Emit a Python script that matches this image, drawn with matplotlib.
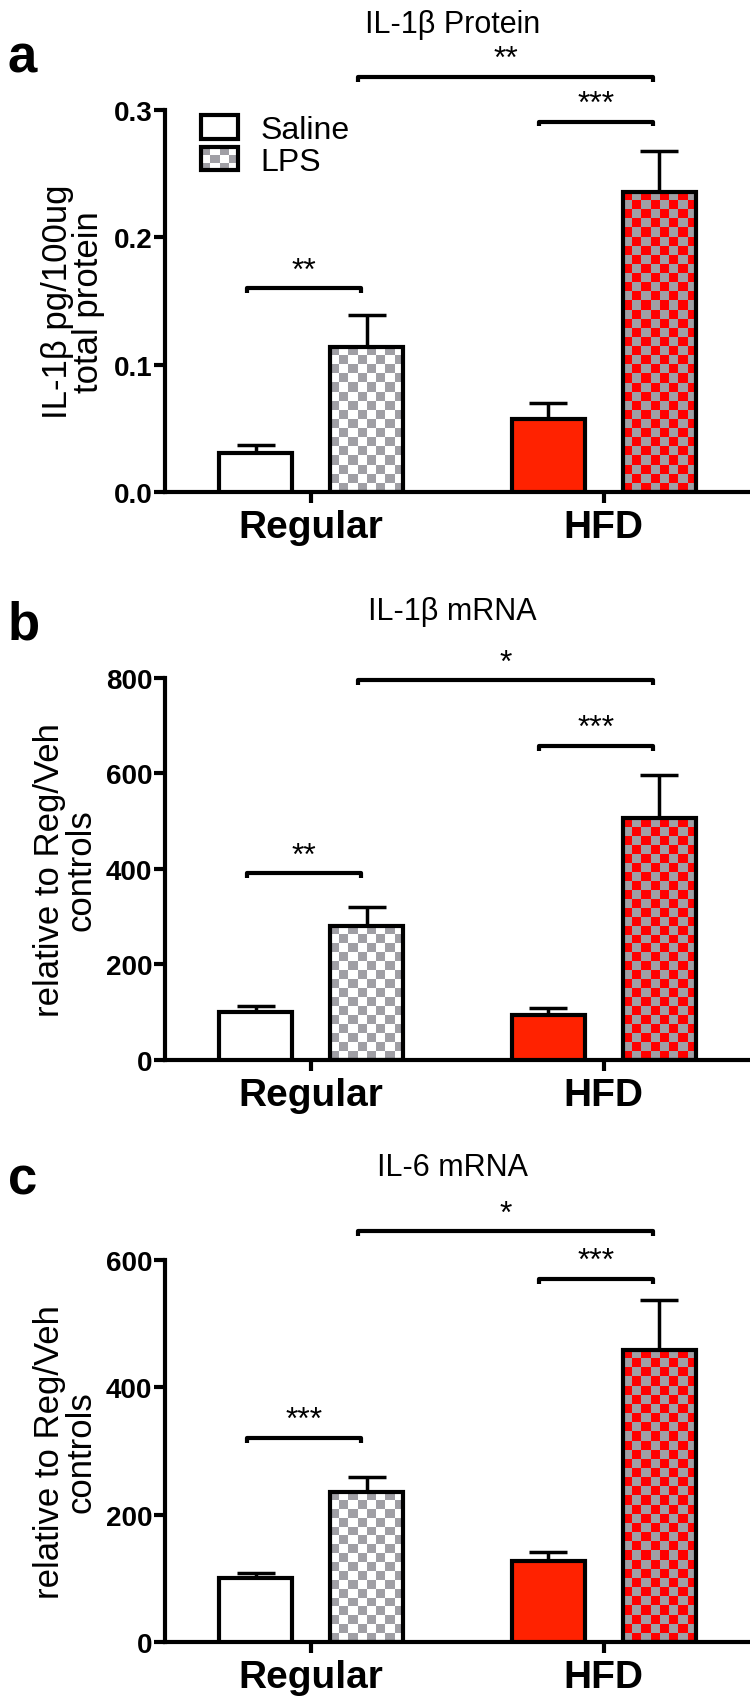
import numpy as np
import matplotlib
matplotlib.use('Agg')
import matplotlib.pyplot as plt
from matplotlib.patches import Rectangle
from matplotlib.colors import ListedColormap
from matplotlib.legend_handler import HandlerBase

plt.rcParams['font.family'] = ['Liberation Sans', 'DejaVu Sans']

groups = ['Regular', 'HFD']
treatments = ['Saline', 'LPS']
titles = ['IL-1\u03b2 Protein', 'IL-1\u03b2 mRNA', 'IL-6 mRNA']
letters = ['a', 'b', 'c']
ylabels = ['IL-1\u03b2 pg/100ug\ntotal protein',
           'relative to Reg/Veh\ncontrols',
           'relative to Reg/Veh\ncontrols']

# panel a: IL-1b protein
saline_a = [0.031, 0.057]
saline_a_err = [0.006, 0.013]
lps_a = [0.114, 0.236]
lps_a_err = [0.025, 0.032]
yticks_a = [0.0, 0.1, 0.2, 0.3]
ytl_a = ['0.0', '0.1', '0.2', '0.3']

# panel b: IL-1b mRNA
saline_b = [101, 94]
saline_b_err = [13, 15]
lps_b = [281, 506]
lps_b_err = [40, 91]
yticks_b = [0, 200, 400, 600, 800]
ytl_b = ['0', '200', '400', '600', '800']

# panel c: IL-6 mRNA
saline_c = [101, 128]
saline_c_err = [7, 13]
lps_c = [236, 459]
lps_c_err = [24, 78]
yticks_c = [0, 200, 400, 600]
ytl_c = ['0', '200', '400', '600']

# significance brackets: (group1, treat1, group2, treat2, height, stars)
sig_a = [(0, 0, 0, 1, 0.160, '**'), (1, 0, 1, 1, 0.291, '***'), (0, 1, 1, 1, 0.326, '**')]
sig_b = [(0, 0, 0, 1, 391, '**'), (1, 0, 1, 1, 658, '***'), (0, 1, 1, 1, 795, '*')]
sig_c = [(0, 0, 0, 1, 321, '***'), (1, 0, 1, 1, 570, '***'), (0, 1, 1, 1, 645, '*')]

panels = [
    (saline_a, saline_a_err, lps_a, lps_a_err, yticks_a, ytl_a, sig_a),
    (saline_b, saline_b_err, lps_b, lps_b_err, yticks_b, ytl_b, sig_b),
    (saline_c, saline_c_err, lps_c, lps_c_err, yticks_c, ytl_c, sig_c),
]

red = '#ff2200'
chk_red = '#ff0000'
chk_gray = '#a09fa5'
lw = 3
barw = 0.25
off = 0.19
cell = 9  # checker cell size in pixels

fig = plt.figure(figsize=(7.5, 17.06), dpi=100)
axes_bottoms = [0.7110, 0.3781, 0.0369]
axes_h = 0.2239
letter_y = [0.966, 0.6336, 0.3083]
title_y = [0.9853, 0.6413, 0.3154]


def checker(ax, bar, c1, c2):
    x0, w, h = bar.get_x(), bar.get_width(), bar.get_height()
    p0 = ax.transData.transform((x0, 0))
    p1 = ax.transData.transform((x0 + w, h))
    nx = max(1, int(round((p1[0] - p0[0]) / cell)))
    ny = max(1, int(round((p1[1] - p0[1]) / cell)))
    pat = np.indices((ny, nx)).sum(axis=0) % 2
    ax.imshow(pat, cmap=ListedColormap([c1, c2]), extent=(x0, x0 + w, 0, h),
              origin='upper', aspect='auto', interpolation='nearest', zorder=2)


class HandlerChecker(HandlerBase):
    def create_artists(self, legend, orig_handle, xdescent, ydescent,
                       width, height, fontsize, trans):
        arts = []
        nx, ny = 4, 3
        cw, ch = width / nx, height / ny
        for i in range(nx):
            for j in range(ny):
                c = chk_gray if (i + j) % 2 == 0 else 'white'
                arts.append(Rectangle((-xdescent + i * cw, -ydescent + j * ch), cw, ch,
                                      facecolor=c, edgecolor='none', transform=trans))
        arts.append(Rectangle((-xdescent, -ydescent), width, height, fill=False,
                              edgecolor='black', lw=lw, transform=trans))
        return arts


x = np.arange(len(groups))
for k, (sal, sal_e, lps, lps_e, yt, ytl, sig) in enumerate(panels):
    ax = fig.add_axes([0.22, axes_bottoms[k], 0.78, axes_h])
    ax.set_xlim(-0.5, 1.5)
    ax.set_ylim(yt[0], yt[-1])

    sal_face = ['white', red]
    b1 = ax.bar(x - off, sal, barw, color=sal_face, edgecolor='black', lw=lw, zorder=3)
    b2 = ax.bar(x + off, lps, barw, facecolor='none', edgecolor='black', lw=lw, zorder=3)
    checker(ax, b2[0], chk_gray, 'white')
    checker(ax, b2[1], chk_red, chk_gray)
    ax.set_xlim(-0.5, 1.5)
    ax.set_ylim(yt[0], yt[-1])

    ax.errorbar(x - off, sal, yerr=[np.zeros(2), sal_e], fmt='none', ecolor='black',
                elinewidth=2.5, capsize=14, capthick=2.5, zorder=1)
    ax.errorbar(x + off, lps, yerr=[np.zeros(2), lps_e], fmt='none', ecolor='black',
                elinewidth=2.5, capsize=14, capthick=2.5, zorder=1)

    top = yt[-1]
    d = 0.013 * top
    for g1, t1, g2, t2, h, s in sig:
        xa = g1 + (2 * t1 - 1) * off - 0.03
        xb = g2 + (2 * t2 - 1) * off - 0.02
        ax.plot([xa, xa, xb, xb], [h - d, h, h, h - d], color='black', lw=lw,
                clip_on=False, solid_capstyle='butt')
        ax.annotate(s, xy=((xa + xb) / 2, h), xytext=(0, 2), textcoords='offset points',
                    ha='center', va='bottom', fontsize=23, annotation_clip=False)

    for side in ['top', 'right']:
        ax.spines[side].set_visible(False)
    for side in ['left', 'bottom']:
        ax.spines[side].set_linewidth(lw)
    ax.set_yticks(yt)
    ax.set_yticklabels(ytl, fontsize=20, fontweight='bold')
    ax.set_xticks(x)
    ax.set_xticklabels(groups, fontsize=28, fontweight='bold')
    ax.tick_params(axis='both', length=8, width=lw)
    ax.tick_params(axis='y', pad=1)
    ax.tick_params(axis='x', pad=4)
    ax.set_ylabel(ylabels[k], fontsize=25, linespacing=0.95, labelpad=6)

    fig.text(0.01, letter_y[k], letters[k], fontsize=38, fontweight='bold',
             ha='left', va='center')
    fig.text(0.603, title_y[k], titles[k], fontsize=22, ha='center', va='center')

    if k == 0:
        h_sal = Rectangle((0, 0), 1, 1, facecolor='white', edgecolor='black', lw=lw)
        h_lps = Rectangle((0, 0), 1, 1)
        ax.legend([h_sal, h_lps], treatments, handler_map={h_lps: HandlerChecker()},
                  loc='upper left', bbox_to_anchor=(0.04, 1.02), frameon=False,
                  fontsize=23, handlelength=1.15, handleheight=0.75, handletextpad=0.7,
                  labelspacing=0.05, borderaxespad=0)

fig.savefig('out.png', dpi=100)
